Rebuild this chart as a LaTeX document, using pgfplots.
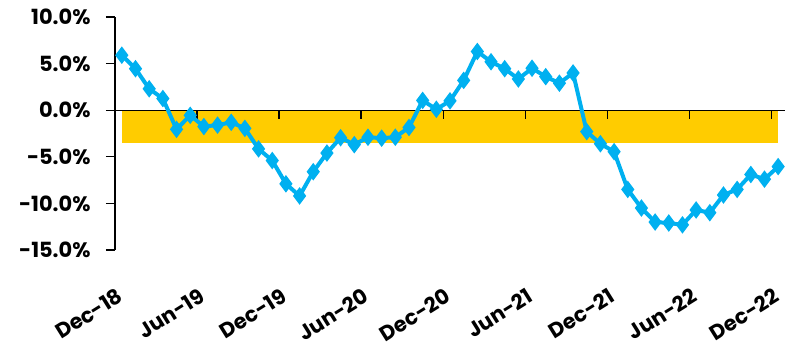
\documentclass[border=0pt]{standalone}
\usepackage{pgfplots}
\pgfplotsset{compat=1.18}
\usepackage{fontspec}
\setmainfont{Poppins}
\definecolor{lineblue}{HTML}{00B0F0}
\definecolor{bandyellow}{HTML}{FFCC00}
\begin{document}
\begin{tikzpicture}
\path[use as bounding box] (-115bp,-100bp) rectangle (670bp,250bp);
\begin{axis}[
  anchor=south west, at={(0,0)},
  scale only axis, width=670bp, height=233bp,
  xmin=-0.5, xmax=48.5, ymin=-15, ymax=10,
  clip=false,
  axis y line=left, axis x line*=bottom,
  x axis line style={draw=none},
  y axis line style={-, line width=1.3bp, black},
  ytick={-15,-10,-5,0,5,10},
  yticklabels={-15.0\%,-10.0\%,-5.0\%,0.0\%,5.0\%,10.0\%},
  ytick style={black, line width=1.3bp},
  major tick length=9bp,
  tick align=outside,
  y tick label style={font=\fontsize{21}{24}\selectfont\bfseries, xshift=-12bp},
  xtick={0,6,12,18,24,30,36,42,48},
  xticklabels={Dec-18,Jun-19,Dec-19,Jun-20,Dec-20,Jun-21,Dec-21,Jun-22,Dec-22},
  xtick style={draw=none},
  x tick label style={font=\fontsize{21}{24}\selectfont\bfseries, rotate=32, anchor=north east, yshift=-17.4bp, xshift=-16.4bp},
]
\addplot[fill=bandyellow, draw=none] coordinates {(0,0) (48,0) (48,-3.5) (0,-3.5)} -- cycle;
\draw[black, line width=1.3bp] (axis cs:-0.5,0) -- (axis cs:48.5,0);
\pgfplotsinvokeforeach{5.5,11.5,17.5,23.5,29.5,35.5,41.5,47.5}{
  \draw[black, line width=1.3bp] (axis cs:#1,0) -- ([yshift=-9bp]axis cs:#1,0);
}
\addplot[color=lineblue, line width=4bp, mark=diamond*, mark size=5.5bp, mark options={solid}] table {
x y
0 5.9
1 4.45
2 2.3
3 1.25
4 -2.05
5 -0.55
6 -1.75
7 -1.6
8 -1.3
9 -1.95
10 -4.15
11 -5.4
12 -7.9
13 -9.2
14 -6.6
15 -4.6
16 -2.95
17 -3.7
18 -2.9
19 -3.0
20 -2.9
21 -1.85
22 1.05
23 0.1
24 1.0
25 3.2
26 6.3
27 5.2
28 4.45
29 3.35
30 4.5
31 3.6
32 2.9
33 4.0
34 -2.3
35 -3.6
36 -4.45
37 -8.5
38 -10.5
39 -12.0
40 -12.1
41 -12.3
42 -10.7
43 -11.0
44 -9.1
45 -8.5
46 -6.9
47 -7.4
48 -6.05
};
\end{axis}
\end{tikzpicture}
\end{document}
